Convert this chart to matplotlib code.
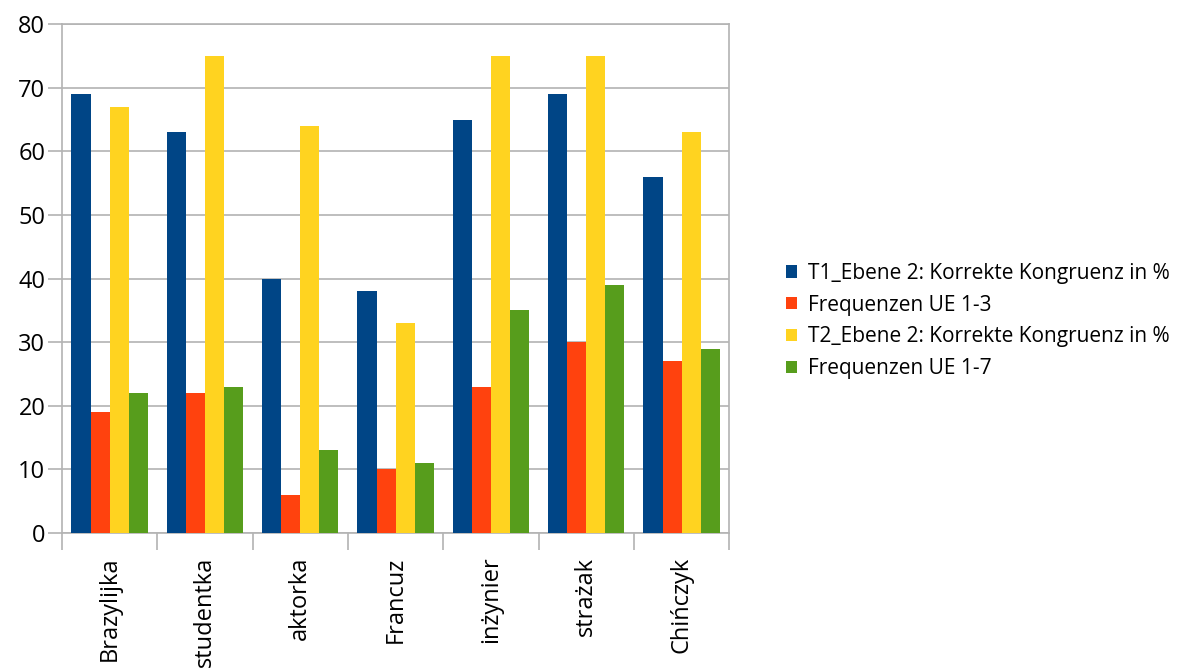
import matplotlib
matplotlib.use("Agg")
import matplotlib.pyplot as plt
import numpy as np

plt.rcParams['font.family'] = ['Open Sans', 'DejaVu Sans']

categories = ["Brazylijka", "studentka", "aktorka", "Francuz", "inżynier", "strażak", "Chińczyk"]
series_names = [
    "T1_Ebene 2: Korrekte Kongruenz in %",
    "Frequenzen UE 1-3",
    "T2_Ebene 2: Korrekte Kongruenz in %",
    "Frequenzen UE 1-7",
]
t1_kongruenz = [69, 63, 40, 38, 65, 69, 56]
freq_ue_1_3 = [19, 22, 6, 10, 23, 30, 27]
t2_kongruenz = [67, 75, 64, 33, 75, 75, 63]
freq_ue_1_7 = [22, 23, 13, 11, 35, 39, 29]
y_ticks = [0, 10, 20, 30, 40, 50, 60, 70, 80]

colors = ["#004586", "#ff420e", "#ffd320", "#579d1c"]
series = [t1_kongruenz, freq_ue_1_3, t2_kongruenz, freq_ue_1_7]

fig = plt.figure(figsize=(11.8, 6.7), dpi=100)
ax = fig.add_axes([0.0525, 0.2045, 0.5655, 0.7595])

x = np.arange(len(categories))
width = 0.2
handles = []
for i, (vals, col, name) in enumerate(zip(series, colors, series_names)):
    h = ax.bar(x + (i - 1.5) * width, vals, width, color=col, label=name,
               zorder=3, linewidth=0)
    handles.append(h)

ax.set_xlim(-0.5, len(categories) - 0.5)
ax.set_ylim(0, 80)
ax.set_yticks(y_ticks)
ax.set_yticklabels([str(v) for v in y_ticks], fontsize=17)

grid_col = "#b3b3b3"
ax.yaxis.grid(True, color=grid_col, linewidth=1.2, zorder=0)
ax.set_axisbelow(True)
for s in ["left", "right", "bottom", "top"]:
    ax.spines[s].set_color(grid_col)
    ax.spines[s].set_linewidth(1.2)

# category labels centred, tick marks at category boundaries
ax.set_xticks(x)
ax.set_xticklabels(categories, rotation=90, fontsize=17)
ax.tick_params(axis="x", which="major", length=0, pad=17)
ax.set_xticks(np.arange(-0.5, len(categories)), minor=True)
ax.tick_params(axis="x", which="minor", length=12, color=grid_col, width=1.2)
ax.tick_params(axis="y", length=10, color=grid_col, width=1.2, pad=2)

fig.legend(handles=handles, labels=series_names, loc="center left",
           bbox_to_anchor=(0.659, 0.521), frameon=False, fontsize=15,
           handlelength=0.55, handleheight=0.55, handletextpad=0.5,
           labelspacing=0.52, borderaxespad=0)

fig.savefig("out.png", dpi=100)
